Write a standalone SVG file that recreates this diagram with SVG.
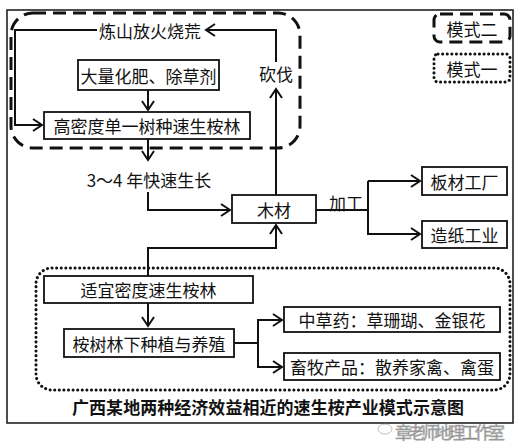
<svg xmlns="http://www.w3.org/2000/svg" width="523" height="445" viewBox="0 0 523 445">
<style>
text{font-family:"Noto Sans CJK SC","Liberation Serif",serif;font-size:17px;fill:#111;text-anchor:middle;dominant-baseline:central}
.box{fill:#fff;stroke:#111;stroke-width:1.8}
.ln{fill:none;stroke:#111;stroke-width:2}
.dash{fill:none;stroke:#111;stroke-width:3;stroke-dasharray:13 7}
.dot{fill:none;stroke:#111;stroke-width:3;stroke-dasharray:0.1 4.5;stroke-linecap:round}
</style>
<defs>
<marker id="ar" markerUnits="userSpaceOnUse" markerWidth="14" markerHeight="16" refX="11" refY="7" orient="auto">
<path d="M2,1 L11,7 L2,13" fill="none" stroke="#111" stroke-width="2"/>
</marker>
</defs>
<rect width="523" height="445" fill="#fff"/>
<rect x="7" y="10" width="506" height="413" fill="none" stroke="#222" stroke-width="1.6"/>
<g id="mode2-region"><rect class="dash" x="11" y="13" width="289" height="135" rx="22"/></g>
<g id="mode1-region"><rect class="dot" x="36" y="268" width="474" height="122" rx="16"/></g>
<g id="legend-mode2"><rect class="dash" x="434" y="14" width="76" height="28" rx="6" stroke-width="2.5"/><text x="472" y="28">模式二</text></g>
<g id="legend-mode1"><rect class="dot" x="434" y="54" width="76" height="28" rx="4" stroke-width="2.5" stroke-dasharray="0.1 3.5"/><text x="472" y="68">模式一</text></g>
<g id="connectors">
<path class="ln" d="M97,30 H15 V125 H42" marker-end="url(#ar)"/>
<path class="ln" d="M276,62 V30 H206" marker-end="url(#ar)"/>
<path class="ln" d="M276,195 V89" marker-end="url(#ar)"/>
<path class="ln" d="M148,90 V110" marker-end="url(#ar)"/>
<path class="ln" d="M148,139 V160" marker-end="url(#ar)"/>
<path class="ln" d="M148,192 V210 H230" marker-end="url(#ar)"/>
<path class="ln" d="M148,276 V248 H276 V225" marker-end="url(#ar)"/>
<path class="ln" d="M316,210 H368"/>
<path class="ln" d="M368,181 V235"/>
<path class="ln" d="M368,181 H420" marker-end="url(#ar)"/>
<path class="ln" d="M368,234 H420" marker-end="url(#ar)"/>
<path class="ln" d="M148,303 V326" marker-end="url(#ar)"/>
<path class="ln" d="M234,343 H258"/>
<path class="ln" d="M258,319 V368"/>
<path class="ln" d="M258,320 H282" marker-end="url(#ar)"/>
<path class="ln" d="M258,367 H282" marker-end="url(#ar)"/>
</g>
<g id="burn"><text x="150" y="30">炼山放火烧荒</text></g>
<g id="cut"><text x="276" y="73">砍伐</text></g>
<g id="fertilizer"><rect class="box" x="78" y="60" width="141" height="30"/><text x="148.5" y="75">大量化肥、除草剂</text></g>
<g id="dense-forest"><rect class="box" x="44" y="112" width="206" height="27"/><text x="147" y="125.5">高密度单一树种速生桉林</text></g>
<g id="growth"><text x="149" y="179">3～4 年快速生长</text></g>
<g id="timber"><rect class="box" x="232" y="195" width="84" height="28"/><text x="274" y="209">木材</text></g>
<g id="process"><text x="346" y="202">加工</text></g>
<g id="board"><rect class="box" x="422" y="167" width="85" height="28"/><text x="464.5" y="181">板材工厂</text></g>
<g id="paper"><rect class="box" x="422" y="221" width="85" height="27"/><text x="464.5" y="234.5">造纸工业</text></g>
<g id="moderate-forest"><rect class="box" x="44" y="276" width="209" height="27"/><text x="148.5" y="289.5">适宜密度速生桉林</text></g>
<g id="understory"><rect class="box" x="64" y="329" width="170" height="28"/><text x="149" y="343">桉树林下种植与养殖</text></g>
<g id="herbs"><rect class="box" x="284" y="307" width="216" height="25"/><text x="392" y="319.5">中草药：草珊瑚、金银花</text></g>
<g id="livestock"><rect class="box" x="284" y="353" width="216" height="27"/><text x="392" y="366.5">畜牧产品：散养家禽、禽蛋</text></g>
<text x="268" y="406" font-weight="bold" font-size="16" textLength="392" lengthAdjust="spacing">广西某地两种经济效益相近的速生桉产业模式示意图</text>
<g opacity="0.55">
<ellipse cx="385" cy="429" rx="7" ry="5" fill="#fff" stroke="#888" stroke-width="1"/>
<text x="450" y="431" font-size="13" fill="#fff" stroke="#777" stroke-width="0.7" textLength="110" lengthAdjust="spacing">章老师地理工作室</text>
</g>
</svg>
